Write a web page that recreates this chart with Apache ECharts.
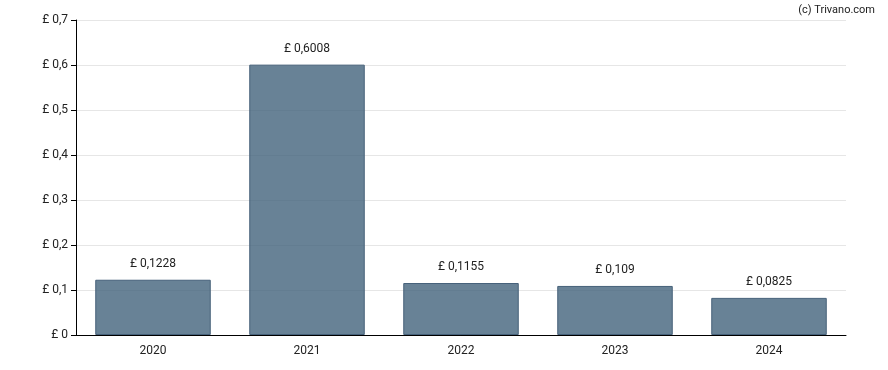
<!DOCTYPE html>
<html><head><meta charset="utf-8">
<script src="https://cdn.jsdelivr.net/npm/echarts@6/dist/echarts.min.js"></script>
<style>html,body{margin:0;padding:0;background:#fff}#c{width:888px;height:370px}</style>
</head><body><div id="c"></div>
<script>
var categories = ['2020','2021','2022','2023','2024'];
var values = [0.1228, 0.6008, 0.1155, 0.109, 0.0825];
var valueLabels = ['£ 0,1228','£ 0,6008','£ 0,1155','£ 0,109','£ 0,0825'];
var yTicks = [0,0.1,0.2,0.3,0.4,0.5,0.6,0.7];

var chart = echarts.init(document.getElementById('c'), null, {renderer:'canvas'});
chart.setOption({
  animation:false,
  textStyle:{fontFamily:'Roboto'},
  title:{text:'(c) Trivano.com', right:8, top:0, textStyle:{fontSize:11, fontWeight:'normal', color:'#222', fontFamily:'Roboto'}},
  grid:{left:76, right:42, top:20, bottom:35, containLabel:false},
  xAxis:{type:'category', data:categories,
    axisLine:{lineStyle:{color:'#000', width:1}},
    axisTick:{alignWithLabel:true, length:5, lineStyle:{color:'#000'}},
    axisLabel:{color:'#222', fontSize:12, margin:10}},
  yAxis:{type:'value', min:0, max:0.7, interval:0.1,
    axisLine:{show:true, lineStyle:{color:'#000'}},
    axisTick:{show:true, length:5, lineStyle:{color:'#000'}},
    splitLine:{lineStyle:{color:'#e6e6e6'}},
    axisLabel:{color:'#222', fontSize:12, margin:8, formatter:function(v){
      var i = yTicks.indexOf(Math.round(v*10)/10);
      return '£ ' + (i===0 ? '0' : String(yTicks[i]).replace('.', ','));
    }}},
  series:[{type:'bar', data:values, barWidth:'75%',
    itemStyle:{color:'rgba(62,95,120,0.78)', borderColor:'#46617a', borderWidth:1},
    label:{show:true, position:'top', distance:10, color:'#222', fontSize:12,
      formatter:function(p){return valueLabels[p.dataIndex];}}}]
});
</script></body></html>
